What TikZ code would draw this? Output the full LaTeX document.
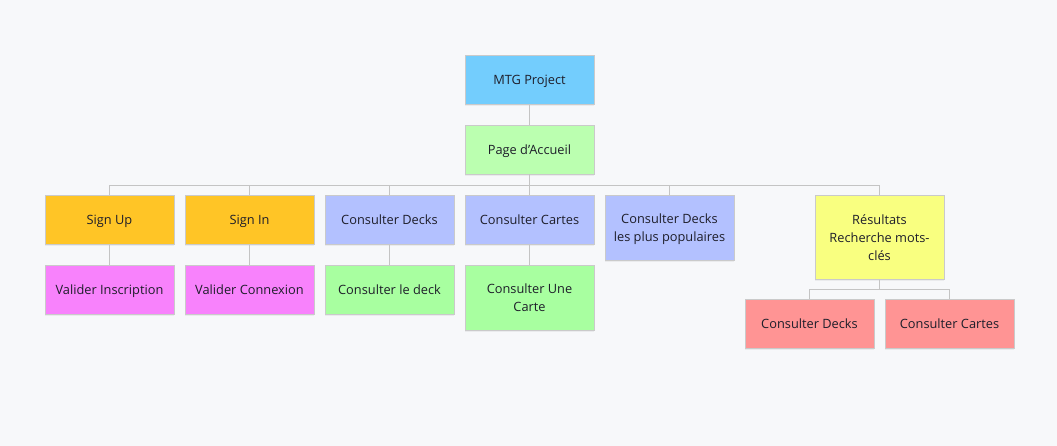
\documentclass[tikz,border=0pt]{standalone}
\usepackage{fontspec}
\setmainfont{Open Sans}
\usetikzlibrary{shadows}
\definecolor{bgcol}{HTML}{F7F8FA}
\definecolor{boxline}{HTML}{CACACA}
\definecolor{linkcol}{HTML}{C4C4C4}
\definecolor{txtcol}{HTML}{1E1E2A}
\definecolor{colRoot}{HTML}{73CDFD}
\definecolor{colHome}{HTML}{BBFFB0}
\definecolor{colSign}{HTML}{FFC526}
\definecolor{colValid}{HTML}{F882FC}
\definecolor{colCons}{HTML}{B3C1FF}
\definecolor{colDeck}{HTML}{A8FFA0}
\definecolor{colRes}{HTML}{F9FF80}
\definecolor{colRed}{HTML}{FF9494}
\begin{document}
\begin{tikzpicture}[x=1pt,y=-1pt]
\tikzset{
  box/.style={draw=boxline, line width=0.8pt, anchor=north, minimum width=129pt,
    minimum height=49pt, inner sep=2pt, align=center, text=txtcol,
    text depth=0pt, font=\fontsize{12.8}{18.3}\selectfont,
    drop shadow={opacity=0.10, shadow xshift=0pt, shadow yshift=-1.5pt}},
  boxRoot/.prefix style={box,fill=colRoot},
  boxHome/.prefix style={box,fill=colHome},
  boxSign/.prefix style={box,fill=colSign},
  boxValid/.prefix style={box,fill=colValid},
  boxCons/.prefix style={box,fill=colCons},
  boxDeck/.prefix style={box,fill=colDeck},
  boxRes/.prefix style={box,fill=colRes},
  boxRed/.prefix style={box,fill=colRed},
  link/.style={draw=linkcol, line width=0.8pt},
}

\fill[bgcol] (0,0) rectangle (1057,446);
\useasboundingbox (0,0) rectangle (1057,446);

%% Root
\node[boxRoot] (mtg) at (529.5,55) {MTG Project};
\node[boxHome] (accueil) at (529.5,125) {Page d'Accueil};

%% Second row
\node[boxSign] (signup) at (109.5,195) {Sign Up};
\node[boxSign] (signin) at (249.5,195) {Sign In};
\node[boxCons] (decks) at (389.5,195) {Consulter Decks};
\node[boxCons] (cartes) at (529.5,195) {Consulter Cartes};
\node[boxCons, minimum height=65pt] (populaires) at (669.5,195) {Consulter Decks\\les plus populaires};
\node[boxRes, minimum height=84pt] (resultats) at (879.5,195) {Résultats\\Recherche mots-\\clés};

%% Third row
\node[boxValid] (inscription) at (109.5,265) {Valider Inscription};
\node[boxValid] (connexion) at (249.5,265) {Valider Connexion};
\node[boxDeck] (ledeck) at (389.5,265) {Consulter le deck};
\node[boxDeck, minimum height=65pt] (unecarte) at (529.5,265) {Consulter Une\\Carte};

%% Search results
\node[boxRed] (rdecks) at (809.5,299) {Consulter Decks};
\node[boxRed] (rcartes) at (949.5,299) {Consulter Cartes};

%% Links
\begin{scope}[on background layer/.try]
\draw[link] (mtg.south) -- (accueil.north);
\foreach \n in {signup,signin,decks,cartes,populaires,resultats}
  \draw[link] (accueil.south) -- ++(0,11) -| (\n.north);
\draw[link] (signup.south) -- (inscription.north);
\draw[link] (signin.south) -- (connexion.north);
\draw[link] (decks.south) -- (ledeck.north);
\draw[link] (cartes.south) -- (unecarte.north);
\foreach \n in {rdecks,rcartes}
  \draw[link] (resultats.south) -- ++(0,10) -| (\n.north);
\end{scope}
\end{tikzpicture}
\end{document}
